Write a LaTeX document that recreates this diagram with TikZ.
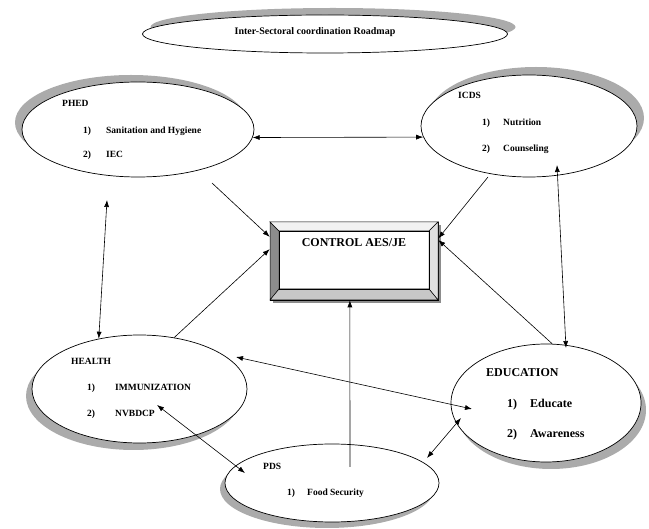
\documentclass[tikz,border=0pt]{standalone}
\usepackage{fontspec}
\setmainfont{Liberation Serif}
\usetikzlibrary{shapes.geometric,arrows.meta}
\begin{document}
\begin{tikzpicture}[x=1pt,y=-1pt,
  ell/.style={ellipse,draw=black,line width=0.7pt,fill=white,inner sep=0pt},
  shd/.style={ellipse,fill=black!33,inner sep=0pt},
  lbl/.style={anchor=west,inner sep=0pt,font=\fontsize{9.5}{11}\selectfont\bfseries,text height=6.3pt,text depth=0pt},
  lblL/.style={lbl,font=\fontsize{12}{14}\selectfont\bfseries,text height=8pt},
  tip/.style={Latex[length=7pt,width=5pt]},
  con/.style={line width=0.6pt,-{Latex[length=7pt,width=5pt]}},
  dcon/.style={line width=0.6pt,{Latex[length=7pt,width=5pt]}-{Latex[length=7pt,width=5pt]}},
  bev/.style={draw=black,line width=0.5pt}]
\useasboundingbox (0,0) rectangle (649,529);

% shadows
\node[shd,minimum width=365pt,minimum height=38pt] (titleS) at (333,27) {};
\node[shd,minimum width=232pt,minimum height=95pt] (phedS) at (131,122.5) {};
\node[shd,minimum width=216pt,minimum height=102pt] (icdsS) at (536,118) {};
\node[shd,minimum width=215pt,minimum height=108pt] (healthS) at (133.5,396) {};
\node[shd,minimum width=190pt,minimum height=118pt] (eduS) at (551,410) {};
\node[shd,minimum width=214pt,minimum height=78pt] (pdsS) at (327,489) {};

% ellipses
\node[ell,minimum width=365pt,minimum height=38pt] (title) at (325,34) {};
\node[ell,minimum width=232pt,minimum height=95pt] (phed) at (138,129.5) {};
\node[ell,minimum width=216pt,minimum height=102pt] (icds) at (529,126) {};
\node[ell,minimum width=215pt,minimum height=108pt] (health) at (139.5,389) {};
\node[ell,minimum width=190pt,minimum height=118pt] (edu) at (546,403) {};
\node[ell,minimum width=214pt,minimum height=78pt] (pds) at (332,483) {};

% title text
\node[inner sep=0pt,font=\fontsize{10}{12}\selectfont\bfseries] (titleT) at (315,32) {Inter-Sectoral coordination Roadmap};

% PHED
\node[lbl] (phedT) at (62,103) {PHED};
\node[lbl] (phedN1) at (83,130) {1)};
\node[lbl] (phed1) at (106,130) {Sanitation and Hygiene};
\node[lbl] (phedN2) at (83,154) {2)};
\node[lbl] (phed2) at (106,154) {IEC};

% ICDS
\node[lbl] (icdsT) at (458,95) {ICDS};
\node[lbl] (icdsN1) at (482,122) {1)};
\node[lbl] (icds1) at (503,122) {Nutrition};
\node[lbl] (icdsN2) at (482,148) {2)};
\node[lbl] (icds2) at (503,148) {Counseling};

% HEALTH
\node[lbl] (healthT) at (71,361) {HEALTH};
\node[lbl] (healthN1) at (87,387) {1)};
\node[lbl] (health1) at (115,387) {IMMUNIZATION};
\node[lbl] (healthN2) at (87,413) {2)};
\node[lbl] (health2) at (115,413) {NVBDCP};

% EDUCATION
\node[lblL] (eduT) at (486,373) {EDUCATION};
\node[lblL] (eduN1) at (507,404) {1)};
\node[lblL] (edu1) at (530,404) {Educate};
\node[lblL] (eduN2) at (507,434) {2)};
\node[lblL] (edu2) at (530,434) {Awareness};

% PDS
\node[lbl] (pdsT) at (263,466) {PDS};
\node[lbl] (pdsN1) at (287,492) {1)};
\node[lbl] (pds1) at (307,492) {Food Security};

% central bevel box
\fill[black!45] (273,225) rectangle (441,303);
\node[draw=black,line width=0.6pt,fill=white,minimum width=168pt,minimum height=78pt,inner sep=0pt] (box) at (354,261) {};
\filldraw[bev,fill=black!45] (270,222) -- (279,231) -- (279,289) -- (270,300) -- cycle;
\filldraw[bev,fill=black!5] (270,222) -- (438,222) -- (429,231) -- (279,231) -- cycle;
\filldraw[bev,fill=black!12] (438,222) -- (438,300) -- (429,289) -- (429,231) -- cycle;
\filldraw[bev,fill=black!22] (270,300) -- (438,300) -- (429,289) -- (279,289) -- cycle;
\draw[bev] (279,231) rectangle (429,289);
\node[inner sep=0pt,font=\fontsize{12}{14}\selectfont\bfseries] (boxT) at (354,243) {CONTROL AES/JE};

% free ends
\coordinate (phedOut) at (212,183);
\coordinate (phedLow) at (107,200);
\coordinate (icdsOut) at (488,177);
\coordinate (icdsIn) at (557,165);
\coordinate (eduTop) at (566,348);
\coordinate (healthIn) at (236,357);
\coordinate (eduIn) at (472,409);
\coordinate (nvbIn) at (157,405);
\coordinate (pdsInL) at (245,473);
\coordinate (pdsOutR) at (427,458);
\coordinate (eduInL) at (461,418);
\coordinate (pdsTop) at (350,467);

% connectors
\draw[dcon] (phed.-4) -- (icds.186);
\draw[con] (phedOut) -- (box.164.7);
\draw[con] (health.56) -- (box.172.5);
\draw[dcon] (phedLow) -- (health.129);
\draw[con] (icdsOut) -- (box.15);
\draw[con] (edu.84) -- (box.14);
\draw[dcon] (icdsIn) -- (eduTop);
\draw[dcon] (healthIn) -- (eduIn);
\draw[dcon] (nvbIn) -- (pdsInL);
\draw[dcon] (pdsOutR) -- (eduInL);
\draw[con] (pdsTop) -- (box.264);
\end{tikzpicture}
\end{document}
